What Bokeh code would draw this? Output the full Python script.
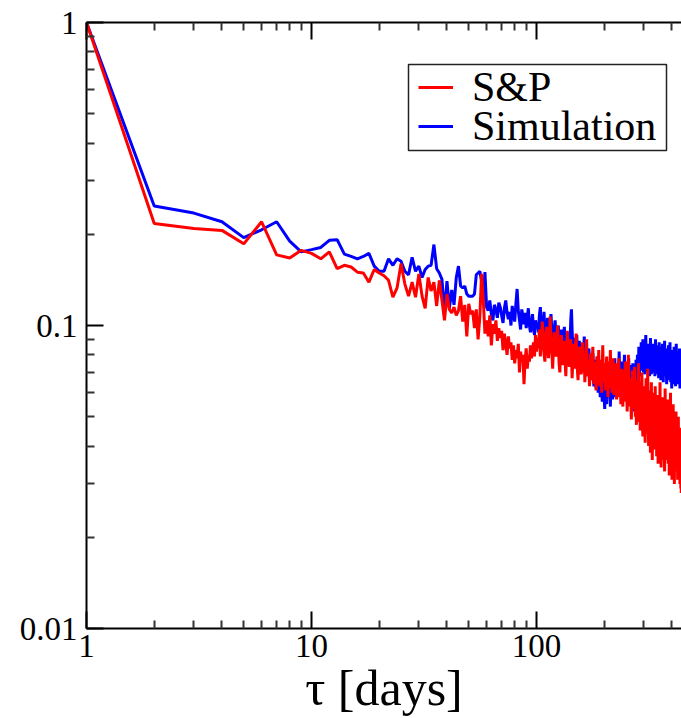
from bokeh.plotting import figure
from bokeh.models import (Range1d, LogAxis, FixedTicker, CustomJSTickFormatter,
                          Legend, LegendItem, BoxAnnotation)
from bokeh.embed import file_html
from bokeh.resources import INLINE

days = list(range(1, 441))

sp_values = [
    1.0, 0.217, 0.209, 0.206, 0.186, 0.220, 0.171, 0.167, 0.177, 0.173,
    0.166, 0.175, 0.154, 0.158, 0.156, 0.150, 0.149, 0.139, 0.153, 0.149,
    0.146, 0.141, 0.124, 0.133, 0.160, 0.137, 0.125, 0.139, 0.124, 0.148,
    0.125, 0.114, 0.144, 0.130, 0.139, 0.116, 0.141, 0.121, 0.104, 0.127,
    0.113, 0.110, 0.115, 0.108, 0.112, 0.125, 0.103, 0.117, 0.092, 0.118,
    0.109, 0.112, 0.098, 0.113, 0.090, 0.107, 0.148, 0.122, 0.094, 0.104,
    0.092, 0.108, 0.086, 0.101, 0.094, 0.104, 0.089, 0.098, 0.091, 0.096,
    0.083, 0.094, 0.087, 0.080, 0.092, 0.084, 0.088, 0.077, 0.086, 0.075,
    0.083, 0.078, 0.087, 0.070, 0.082, 0.076, 0.080, 0.064, 0.077, 0.084,
    0.072, 0.080, 0.076, 0.086, 0.078, 0.083, 0.088, 0.079, 0.093, 0.082,
    0.091, 0.084, 0.097, 0.079, 0.088, 0.103, 0.094, 0.081, 0.076, 0.092,
    0.099, 0.086, 0.078, 0.085, 0.107, 0.090, 0.082, 0.072, 0.087, 0.095,
    0.083, 0.079, 0.091, 0.100, 0.088, 0.075, 0.070, 0.084, 0.093, 0.080,
    0.074, 0.086, 0.089, 0.077, 0.068, 0.081, 0.096, 0.085, 0.078, 0.073,
    0.083, 0.090, 0.079, 0.067, 0.076, 0.087, 0.080, 0.072, 0.084, 0.094,
    0.078, 0.071, 0.066, 0.080, 0.085, 0.075, 0.082, 0.069, 0.074, 0.088,
    0.076, 0.070, 0.079, 0.065, 0.073, 0.084, 0.090, 0.074, 0.068, 0.077,
    0.072, 0.063, 0.070, 0.081, 0.075, 0.066, 0.078, 0.085, 0.071, 0.064,
    0.069, 0.076, 0.072, 0.061, 0.067, 0.079, 0.074, 0.068, 0.083, 0.070,
    0.063, 0.071, 0.077, 0.066, 0.060, 0.072, 0.086, 0.073, 0.065, 0.069,
    0.075, 0.067, 0.061, 0.070, 0.079, 0.068, 0.063, 0.058, 0.071, 0.076,
    0.066, 0.072, 0.083, 0.069, 0.062, 0.067, 0.060, 0.073, 0.078, 0.064,
    0.059, 0.068, 0.071, 0.062, 0.075, 0.066, 0.057, 0.064, 0.070, 0.061,
    0.067, 0.078, 0.065, 0.058, 0.062, 0.069, 0.055, 0.063, 0.072, 0.066,
    0.060, 0.054, 0.065, 0.071, 0.063, 0.059, 0.068, 0.076, 0.061, 0.056,
    0.064, 0.058, 0.052, 0.062, 0.069, 0.080, 0.066, 0.057, 0.061, 0.054,
    0.067, 0.060, 0.055, 0.049, 0.058, 0.064, 0.071, 0.059, 0.053, 0.062,
    0.056, 0.068, 0.073, 0.057, 0.050, 0.061, 0.055, 0.047, 0.059, 0.066,
    0.058, 0.052, 0.063, 0.075, 0.060, 0.048, 0.054, 0.062, 0.045, 0.057,
    0.065, 0.051, 0.055, 0.070, 0.058, 0.046, 0.043, 0.056, 0.061, 0.050,
    0.054, 0.063, 0.047, 0.041, 0.052, 0.059, 0.067, 0.049, 0.055, 0.044,
    0.050, 0.072, 0.057, 0.046, 0.040, 0.053, 0.061, 0.048, 0.056, 0.043,
    0.038, 0.051, 0.058, 0.065, 0.047, 0.053, 0.036, 0.045, 0.054, 0.049,
    0.060, 0.044, 0.039, 0.052, 0.057, 0.046, 0.063, 0.050, 0.042, 0.048,
    0.055, 0.037, 0.044, 0.051, 0.059, 0.047, 0.035, 0.041, 0.053, 0.046,
    0.040, 0.056, 0.049, 0.065, 0.043, 0.038, 0.047, 0.034, 0.052, 0.045,
    0.050, 0.041, 0.036, 0.058, 0.046, 0.039, 0.054, 0.048, 0.043, 0.037,
    0.033, 0.045, 0.062, 0.051, 0.040, 0.047, 0.036, 0.042, 0.055, 0.044,
    0.038, 0.049, 0.057, 0.041, 0.035, 0.046, 0.052, 0.039, 0.032, 0.043,
    0.050, 0.040, 0.046, 0.060, 0.044, 0.037, 0.034, 0.048, 0.041, 0.031,
    0.045, 0.053, 0.039, 0.036, 0.055, 0.042, 0.047, 0.033, 0.040, 0.030,
    0.044, 0.050, 0.037, 0.041, 0.034, 0.046, 0.052, 0.038, 0.033, 0.043,
    0.048, 0.036, 0.040, 0.031, 0.045, 0.039, 0.050, 0.035, 0.042, 0.037,
    0.033, 0.046, 0.038, 0.030, 0.041, 0.044, 0.035, 0.029, 0.039, 0.028,
]

sim_values = [
    1.0, 0.248, 0.235, 0.220, 0.195, 0.207, 0.220, 0.190, 0.175, 0.178,
    0.181, 0.191, 0.192, 0.172, 0.169, 0.166, 0.169, 0.173, 0.157, 0.151,
    0.151, 0.166, 0.158, 0.166, 0.163, 0.151, 0.147, 0.168, 0.151, 0.157,
    0.144, 0.153, 0.157, 0.158, 0.185, 0.154, 0.149, 0.142, 0.110, 0.140,
    0.114, 0.131, 0.117, 0.144, 0.157, 0.135, 0.133, 0.135, 0.127, 0.125,
    0.125, 0.125, 0.127, 0.147, 0.149, 0.151, 0.140, 0.120, 0.150, 0.115,
    0.112, 0.121, 0.109, 0.104, 0.117, 0.113, 0.106, 0.119, 0.115, 0.108,
    0.102, 0.114, 0.121, 0.110, 0.105, 0.111, 0.100, 0.116, 0.109, 0.103,
    0.118, 0.132, 0.112, 0.104, 0.097, 0.113, 0.108, 0.101, 0.110, 0.098,
    0.106, 0.114, 0.100, 0.095, 0.103, 0.109, 0.097, 0.093, 0.104, 0.099,
    0.102, 0.095, 0.108, 0.115, 0.097, 0.090, 0.100, 0.111, 0.094, 0.088,
    0.099, 0.106, 0.093, 0.089, 0.101, 0.109, 0.096, 0.087, 0.092, 0.098,
    0.104, 0.090, 0.085, 0.094, 0.100, 0.088, 0.083, 0.091, 0.097, 0.086,
    0.082, 0.093, 0.099, 0.087, 0.084, 0.079, 0.090, 0.095, 0.086, 0.081,
    0.088, 0.104, 0.113, 0.096, 0.085, 0.079, 0.091, 0.084, 0.077, 0.086,
    0.093, 0.080, 0.075, 0.083, 0.089, 0.078, 0.073, 0.081, 0.087, 0.076,
    0.071, 0.079, 0.092, 0.077, 0.070, 0.075, 0.083, 0.072, 0.068, 0.078,
    0.084, 0.073, 0.066, 0.071, 0.079, 0.069, 0.075, 0.081, 0.067, 0.063,
    0.070, 0.077, 0.068, 0.062, 0.072, 0.079, 0.066, 0.060, 0.069, 0.074,
    0.064, 0.058, 0.067, 0.073, 0.061, 0.056, 0.065, 0.071, 0.063, 0.057,
    0.053, 0.062, 0.069, 0.060, 0.055, 0.064, 0.072, 0.061, 0.058, 0.066,
    0.070, 0.059, 0.054, 0.063, 0.068, 0.075, 0.062, 0.057, 0.065, 0.071,
    0.061, 0.067, 0.078, 0.064, 0.058, 0.066, 0.072, 0.060, 0.068, 0.074,
    0.063, 0.069, 0.082, 0.071, 0.062, 0.059, 0.067, 0.073, 0.064, 0.070,
    0.076, 0.065, 0.060, 0.068, 0.074, 0.080, 0.066, 0.061, 0.070, 0.063,
    0.058, 0.067, 0.073, 0.065, 0.060, 0.071, 0.078, 0.064, 0.059, 0.068,
    0.074, 0.063, 0.057, 0.066, 0.072, 0.061, 0.069, 0.075, 0.064, 0.052,
    0.060, 0.068, 0.073, 0.066, 0.062, 0.070, 0.077, 0.069, 0.065, 0.072,
    0.080, 0.071, 0.067, 0.075, 0.085, 0.073, 0.068, 0.078, 0.083, 0.072,
    0.076, 0.088, 0.079, 0.071, 0.075, 0.082, 0.090, 0.077, 0.070, 0.079,
    0.086, 0.074, 0.069, 0.078, 0.084, 0.093, 0.080, 0.073, 0.071, 0.082,
    0.076, 0.070, 0.081, 0.087, 0.074, 0.079, 0.072, 0.068, 0.083, 0.077,
    0.091, 0.080, 0.073, 0.069, 0.078, 0.085, 0.074, 0.071, 0.080, 0.087,
    0.076, 0.070, 0.079, 0.084, 0.073, 0.068, 0.077, 0.090, 0.078, 0.072,
    0.081, 0.075, 0.069, 0.086, 0.078, 0.071, 0.074, 0.083, 0.067, 0.076,
    0.088, 0.077, 0.070, 0.074, 0.082, 0.072, 0.066, 0.079, 0.085, 0.073,
    0.069, 0.078, 0.087, 0.075, 0.071, 0.065, 0.076, 0.083, 0.072, 0.079,
    0.089, 0.074, 0.068, 0.077, 0.072, 0.084, 0.078, 0.069, 0.064, 0.075,
    0.081, 0.073, 0.067, 0.076, 0.082, 0.086, 0.071, 0.066, 0.077, 0.072,
    0.080, 0.088, 0.074, 0.069, 0.065, 0.076, 0.083, 0.070, 0.062, 0.075,
    0.079, 0.071, 0.067, 0.083, 0.077, 0.070, 0.064, 0.078, 0.085, 0.073,
    0.068, 0.076, 0.080, 0.072, 0.063, 0.071, 0.079, 0.087, 0.074, 0.069,
    0.066, 0.077, 0.082, 0.073, 0.068, 0.064, 0.075, 0.081, 0.072, 0.067,
    0.078, 0.084, 0.071, 0.062, 0.070, 0.076, 0.068, 0.080, 0.073, 0.076,
]

x_major = [1, 10, 100]
x_minor = [2, 3, 4, 5, 6, 7, 8, 9, 20, 30, 40, 50, 60, 70, 80, 90, 200, 300, 400]
y_major = [0.01, 0.1, 1]
y_minor = [0.02, 0.03, 0.04, 0.05, 0.06, 0.07, 0.08, 0.09,
           0.2, 0.3, 0.4, 0.5, 0.6, 0.7, 0.8, 0.9]

FONT = "Liberation Serif"

p = figure(width=681, height=718, x_axis_type="log", y_axis_type="log",
           x_range=Range1d(1, 441), y_range=Range1d(0.01, 1),
           output_backend="svg", toolbar_location=None,
           min_border_left=86, min_border_top=22, min_border_right=0,
           min_border_bottom=87)
p.outline_line_color = None
p.xgrid.visible = False
p.ygrid.visible = False
p.background_fill_color = "white"
p.border_fill_color = "white"

fmt = CustomJSTickFormatter(code="return tick.toString();")


def style(ax, labels=True):
    ax.axis_line_width = 2
    ax.axis_line_color = "black"
    ax.major_tick_in = 17
    ax.major_tick_out = 0
    ax.minor_tick_in = 8
    ax.minor_tick_out = 0
    ax.major_tick_line_width = 2
    ax.minor_tick_line_width = 2
    ax.major_tick_line_color = "black"
    ax.minor_tick_line_color = "#333333"
    if labels:
        ax.major_label_text_font = FONT
        ax.major_label_text_font_size = "33px"
        ax.major_label_text_color = "black"
        ax.formatter = fmt
    else:
        ax.major_label_text_font_size = "1px"
        ax.major_label_text_alpha = 0
        ax.major_label_standoff = 0


p.xaxis.ticker = FixedTicker(ticks=x_major, minor_ticks=x_minor)
p.yaxis.ticker = FixedTicker(ticks=y_major, minor_ticks=y_minor)
style(p.xaxis[0])
style(p.yaxis[0])
p.xaxis.major_label_standoff = 6
p.yaxis.major_label_standoff = 9
p.xaxis.axis_label = "τ [days]"
p.xaxis.axis_label_text_font = FONT
p.xaxis.axis_label_text_font_size = "50px"
p.xaxis.axis_label_text_font_style = "normal"
p.xaxis.axis_label_text_color = "black"
p.xaxis.axis_label_standoff = 0

top = LogAxis(ticker=FixedTicker(ticks=x_major, minor_ticks=x_minor))
style(top, labels=False)
p.add_layout(top, "above")

r_sim = p.line(days, sim_values, line_color="#0000ff", line_width=3)
r_sp = p.line(days, sp_values, line_color="#ff0000", line_width=3)

# legend frame (canvas pixels)
frame_box = BoxAnnotation(left=408, right=666, top=64, bottom=150,
                          left_units="canvas", right_units="canvas",
                          top_units="canvas", bottom_units="canvas",
                          fill_color="white", fill_alpha=1.0,
                          line_color="#222222", line_width=1.5,
                          line_alpha=1.0)
p.add_layout(frame_box)


def make_legend(label, renderer, loc):
    lg = Legend(items=[LegendItem(label=label, renderers=[renderer])],
                location=loc)
    lg.label_text_font = FONT
    lg.label_text_font_size = "42px"
    lg.label_text_color = "black"
    lg.glyph_width = 35
    lg.glyph_height = 20
    lg.label_height = 20
    lg.label_standoff = 19
    lg.padding = 0
    lg.spacing = 0
    lg.margin = 0
    lg.border_line_color = None
    lg.background_fill_alpha = 0
    return lg


p.add_layout(make_legend("S&P", r_sp, (332, 517)), "center")
p.add_layout(make_legend("Simulation", r_sim, (332, 478)), "center")

open("out.html", "w").write(file_html(p, INLINE))
